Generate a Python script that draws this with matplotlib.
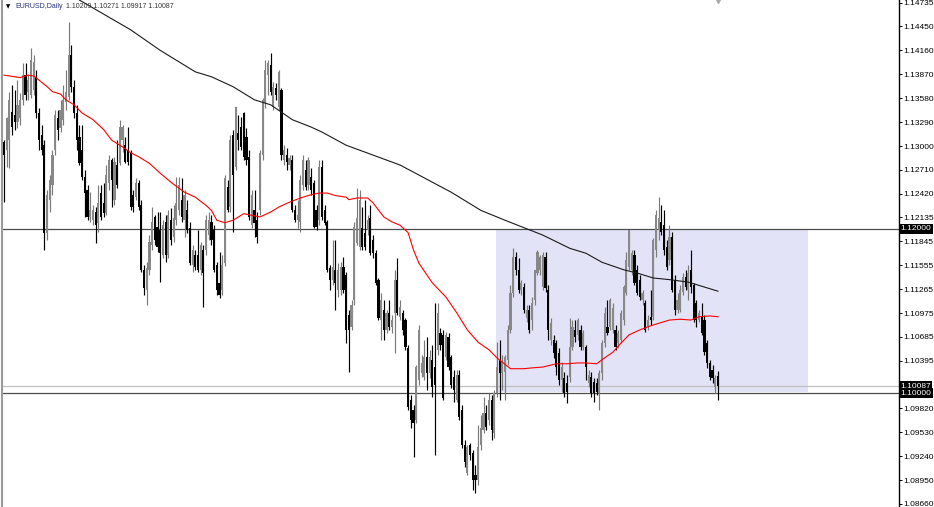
import matplotlib
matplotlib.use("Agg")
import matplotlib.pyplot as plt
from matplotlib.patches import Rectangle

plt.rcParams['font.family'] = ['Liberation Sans', 'DejaVu Sans']

# EURUSD daily candles, oldest first
opens = [
    1.1305, 1.1295, 1.1307, 1.1341, 1.1338, 1.1329, 1.1334, 1.1356, 1.1386, 1.1366,
    1.1362, 1.1368, 1.1383, 1.1340, 1.1313, 1.1301, 1.1195, 1.1235, 1.1253, 1.1295,
    1.1334, 1.1322, 1.1332, 1.1353, 1.1360, 1.1410, 1.1372, 1.1340, 1.1311, 1.1295,
    1.1262, 1.1247, 1.1214, 1.1210, 1.1220, 1.1207, 1.1243, 1.1231, 1.1219, 1.1255,
    1.1283, 1.1235, 1.1277, 1.1279, 1.1307, 1.1301, 1.1295, 1.1292, 1.1241, 1.1238,
    1.1255, 1.1228, 1.1150, 1.1125, 1.1150, 1.1180, 1.1214, 1.1202, 1.1198, 1.1168,
    1.1208, 1.1168, 1.1210, 1.1190, 1.1210, 1.1222, 1.1235, 1.1210, 1.1222, 1.1201,
    1.1156, 1.1168, 1.1168, 1.1150, 1.1174, 1.1174, 1.1192, 1.1208, 1.1198, 1.1156,
    1.1134, 1.1125, 1.1158, 1.1250, 1.1226, 1.1313, 1.1275, 1.1316, 1.1323, 1.1340,
    1.1311, 1.1287, 1.1204, 1.1222, 1.1210, 1.1222, 1.1289, 1.1352, 1.1386, 1.1398,
    1.1347, 1.1370, 1.1347, 1.1368, 1.1283, 1.1289, 1.1277, 1.1283, 1.1222, 1.1210,
    1.1208, 1.1253, 1.1271, 1.1253, 1.1262, 1.1255, 1.1222, 1.1210, 1.1275, 1.1222,
    1.1208, 1.1152, 1.1138, 1.1150, 1.1125, 1.1125, 1.1153, 1.1144, 1.1095, 1.1081,
    1.1113, 1.1182, 1.1178, 1.1201, 1.1195, 1.1198, 1.1213, 1.1186, 1.1170, 1.1138,
    1.1089, 1.1101, 1.1077, 1.1098, 1.1081, 1.1098, 1.1138, 1.1093, 1.1098, 1.1089,
    1.1055, 1.0992, 1.0980, 1.0968, 1.1016, 1.1025, 1.1020, 1.1044, 1.1025, 1.1041,
    1.1032, 1.1053, 1.1073, 1.1071, 1.1044, 1.1068, 1.1044, 1.1020, 1.0992, 1.1022,
    1.0980, 1.0938, 1.0904, 1.0938, 1.0928, 1.0901, 1.0895, 1.0938, 1.0956, 1.0976,
    1.0968, 1.0992, 1.0952, 1.1001, 1.1041, 1.1025, 1.1026, 1.1041, 1.1077, 1.1122,
    1.1165, 1.1150, 1.1125, 1.1129, 1.1091, 1.1101, 1.1089, 1.1113, 1.1146, 1.1150,
    1.1129, 1.1165, 1.1125, 1.1065, 1.1065, 1.1061, 1.1049, 1.1016, 1.1019, 1.1013,
    1.1020, 1.1056, 1.1077, 1.1071, 1.1077, 1.1056, 1.1056, 1.1013, 1.1020, 1.1014,
    1.1013, 1.1001, 1.1025, 1.1061, 1.1081, 1.1081, 1.1077, 1.1077, 1.1061, 1.1065,
    1.1089, 1.1122, 1.1153, 1.1150, 1.1168, 1.1150, 1.1138, 1.1113, 1.1110, 1.1081,
    1.1093, 1.1093, 1.1174, 1.1198, 1.1208, 1.1204, 1.1178, 1.1162, 1.1190, 1.1138,
    1.1101, 1.1101, 1.1123, 1.1141, 1.1125, 1.1150, 1.1131, 1.1110, 1.1089, 1.1093,
    1.1089, 1.1061, 1.1037, 1.1028, 1.1008, 1.10209,
]
highs = [
    1.1307, 1.1335, 1.1366, 1.1374, 1.1368, 1.1380, 1.1364, 1.1401, 1.1401, 1.1386,
    1.1419, 1.1410, 1.1392, 1.1346, 1.1326, 1.1307, 1.1247, 1.1265, 1.1295, 1.1344,
    1.1344, 1.1356, 1.1374, 1.1392, 1.1450, 1.1423, 1.1380, 1.1350, 1.1326, 1.1326,
    1.1271, 1.1253, 1.1244, 1.1228, 1.1226, 1.1253, 1.1253, 1.1255, 1.1277, 1.1289,
    1.1286, 1.1287, 1.1307, 1.1332, 1.1326, 1.1311, 1.1323, 1.1295, 1.1247, 1.1261,
    1.1259, 1.1235, 1.1156, 1.1159, 1.1192, 1.1226, 1.1216, 1.1220, 1.1220, 1.1210,
    1.1216, 1.1222, 1.1225, 1.1228, 1.1262, 1.1262, 1.1261, 1.1247, 1.1235, 1.1208,
    1.1180, 1.1174, 1.1198, 1.1184, 1.1180, 1.1216, 1.1220, 1.1216, 1.1204, 1.1159,
    1.1172, 1.1168, 1.1265, 1.1259, 1.1313, 1.1319, 1.1347, 1.1338, 1.1335, 1.1341,
    1.1322, 1.1295, 1.1247, 1.1247, 1.1220, 1.1295, 1.1358, 1.1404, 1.1404, 1.1413,
    1.1378, 1.1376, 1.1392, 1.1370, 1.1301, 1.1298, 1.1289, 1.1289, 1.1228, 1.1235,
    1.1265, 1.1289, 1.1283, 1.1287, 1.1273, 1.1259, 1.1228, 1.1283, 1.1283, 1.1228,
    1.1210, 1.1156, 1.1186, 1.1186, 1.1158, 1.1159, 1.1165, 1.1147, 1.1101, 1.1113,
    1.1208, 1.1249, 1.1247, 1.1226, 1.1235, 1.1216, 1.1228, 1.1192, 1.1174, 1.1140,
    1.1122, 1.1113, 1.1101, 1.1113, 1.1095, 1.1150, 1.1164, 1.1113, 1.1101, 1.1091,
    1.1059, 1.0998, 1.0986, 1.1035, 1.1083, 1.1047, 1.1065, 1.1068, 1.1053, 1.1059,
    1.1110, 1.1110, 1.1079, 1.1077, 1.1075, 1.1073, 1.1047, 1.1028, 1.1028, 1.1028,
    1.0986, 1.0944, 1.0938, 1.0940, 1.0931, 1.0913, 1.0962, 1.0974, 1.0996, 1.0986,
    1.1001, 1.0998, 1.1004, 1.1062, 1.1065, 1.1047, 1.1047, 1.1083, 1.1131, 1.1176,
    1.1172, 1.1164, 1.1138, 1.1134, 1.1107, 1.1107, 1.1117, 1.1150, 1.1174, 1.1168,
    1.1172, 1.1172, 1.1131, 1.1091, 1.1071, 1.1065, 1.1055, 1.1038, 1.1026, 1.1022,
    1.1091, 1.1089, 1.1089, 1.1091, 1.1083, 1.1077, 1.1059, 1.1028, 1.1026, 1.1019,
    1.1019, 1.1028, 1.1065, 1.1105, 1.1113, 1.1116, 1.1110, 1.1083, 1.1077, 1.1101,
    1.1131, 1.1172, 1.1198, 1.1174, 1.1174, 1.1156, 1.1144, 1.1125, 1.1113, 1.1095,
    1.1125, 1.1189, 1.1222, 1.1238, 1.1228, 1.1222, 1.1186, 1.1204, 1.1196, 1.1144,
    1.1122, 1.1131, 1.1146, 1.1150, 1.1156, 1.1174, 1.1134, 1.1113, 1.1101, 1.1110,
    1.1095, 1.1065, 1.1041, 1.1035, 1.1022, 1.10271,
]
lows = [
    1.1232, 1.1275, 1.1273, 1.1313, 1.1319, 1.1322, 1.1326, 1.1350, 1.1356, 1.1356,
    1.1358, 1.1362, 1.1334, 1.1295, 1.1289, 1.1174, 1.1186, 1.1220, 1.1241, 1.1289,
    1.1307, 1.1317, 1.1326, 1.1344, 1.1356, 1.1366, 1.1334, 1.1295, 1.1277, 1.1259,
    1.1214, 1.1210, 1.1208, 1.1204, 1.1182, 1.1196, 1.1210, 1.1214, 1.1216, 1.1247,
    1.1226, 1.1228, 1.1249, 1.1277, 1.1293, 1.1279, 1.1277, 1.1222, 1.1220, 1.1235,
    1.1222, 1.1147, 1.1119, 1.1107, 1.1144, 1.1174, 1.1180, 1.1172, 1.1135, 1.1164,
    1.1159, 1.1164, 1.1180, 1.1184, 1.1204, 1.1216, 1.1208, 1.1190, 1.1195, 1.1156,
    1.1147, 1.1150, 1.1147, 1.1144, 1.1105, 1.1168, 1.1186, 1.1180, 1.1147, 1.1119,
    1.1116, 1.1119, 1.1155, 1.1220, 1.1220, 1.1196, 1.1271, 1.1295, 1.1295, 1.1283,
    1.1277, 1.1210, 1.1201, 1.1190, 1.1182, 1.1216, 1.1283, 1.1346, 1.1362, 1.1362,
    1.1344, 1.1356, 1.1344, 1.1283, 1.1277, 1.1271, 1.1271, 1.1220, 1.1208, 1.1201,
    1.1196, 1.1247, 1.1247, 1.1247, 1.1241, 1.1201, 1.1198, 1.1204, 1.1210, 1.1204,
    1.1147, 1.1125, 1.1131, 1.1101, 1.1117, 1.1119, 1.1122, 1.1061, 1.1026, 1.1077,
    1.1107, 1.1180, 1.1174, 1.1174, 1.1174, 1.1192, 1.1168, 1.1164, 1.1131, 1.1089,
    1.1065, 1.1065, 1.1073, 1.1077, 1.1073, 1.1049, 1.1095, 1.1089, 1.1071, 1.1053,
    1.0980, 1.0958, 1.0923, 1.0964, 1.1010, 1.1020, 1.1016, 1.1004, 1.1019, 1.0996,
    1.0925, 1.1047, 1.1053, 1.0992, 1.1041, 1.1028, 1.1007, 1.0990, 1.0990, 1.0968,
    1.0934, 1.0911, 1.0901, 1.0919, 1.0883, 1.0879, 1.0889, 1.0931, 1.0952, 1.0956,
    1.0962, 1.0944, 1.0946, 1.0996, 1.0992, 1.1004, 1.0992, 1.1035, 1.1073, 1.1117,
    1.1144, 1.1122, 1.1119, 1.1098, 1.1087, 1.1073, 1.1077, 1.1107, 1.1144, 1.1144,
    1.1125, 1.1123, 1.1065, 1.1059, 1.1043, 1.1022, 1.1010, 1.1002, 1.0996, 1.0988,
    1.1014, 1.1053, 1.1062, 1.1065, 1.1053, 1.1053, 1.1016, 1.1008, 1.0996, 1.0990,
    1.0998, 1.0980, 1.1016, 1.1056, 1.1071, 1.1077, 1.1073, 1.1053, 1.1055, 1.1061,
    1.1083, 1.1119, 1.1150, 1.1144, 1.1131, 1.1119, 1.1113, 1.1107, 1.1075, 1.1077,
    1.1083, 1.1089, 1.1165, 1.1186, 1.1192, 1.1168, 1.1150, 1.1156, 1.1123, 1.1095,
    1.1098, 1.1099, 1.1119, 1.1125, 1.1113, 1.1122, 1.1087, 1.1081, 1.1087, 1.1071,
    1.1047, 1.1031, 1.1016, 1.1013, 1.1001, 1.09917,
]
closes = [
    1.1289, 1.1334, 1.1356, 1.1323, 1.1329, 1.1350, 1.1356, 1.1386, 1.1362, 1.1380,
    1.1404, 1.1402, 1.1340, 1.1307, 1.1295, 1.1195, 1.1241, 1.1259, 1.1289, 1.1338,
    1.1319, 1.1344, 1.1356, 1.1366, 1.1410, 1.1372, 1.1340, 1.1307, 1.1279, 1.1262,
    1.1243, 1.1214, 1.1222, 1.1222, 1.1204, 1.1231, 1.1214, 1.1219, 1.1265, 1.1283,
    1.1259, 1.1281, 1.1253, 1.1323, 1.1323, 1.1281, 1.1281, 1.1226, 1.1226, 1.1255,
    1.1226, 1.1150, 1.1128, 1.1152, 1.1184, 1.1208, 1.1186, 1.1178, 1.1170, 1.1204,
    1.1168, 1.1216, 1.1186, 1.1213, 1.1231, 1.1253, 1.1214, 1.1241, 1.1198, 1.1158,
    1.1174, 1.1153, 1.1150, 1.1180, 1.1146, 1.1210, 1.1210, 1.1186, 1.1150, 1.1125,
    1.1119, 1.1156, 1.1261, 1.1222, 1.1307, 1.1265, 1.1347, 1.1307, 1.1299, 1.1287,
    1.1283, 1.1214, 1.1241, 1.1207, 1.1190, 1.1292, 1.1356, 1.1392, 1.1401, 1.1366,
    1.1372, 1.1362, 1.1390, 1.1289, 1.1295, 1.1281, 1.1286, 1.1222, 1.1210, 1.1216,
    1.1259, 1.1283, 1.1250, 1.1283, 1.1247, 1.1202, 1.1202, 1.1275, 1.1214, 1.1207,
    1.1150, 1.1138, 1.1153, 1.1134, 1.1150, 1.1153, 1.1125, 1.1077, 1.1077, 1.1107,
    1.1202, 1.1213, 1.1235, 1.1178, 1.1178, 1.1210, 1.1170, 1.1170, 1.1134, 1.1091,
    1.1113, 1.1077, 1.1098, 1.1081, 1.1089, 1.1138, 1.1098, 1.1105, 1.1077, 1.1056,
    1.0984, 1.0968, 1.0964, 1.1032, 1.1077, 1.1037, 1.1044, 1.1025, 1.1044, 1.1008,
    1.1010, 1.1098, 1.1059, 1.0994, 1.1071, 1.1032, 1.1010, 1.1004, 1.1022, 1.0971,
    1.0938, 1.0917, 1.0935, 1.0925, 1.0895, 1.0895, 1.0935, 1.0958, 1.0976, 1.0959,
    1.0992, 1.0956, 1.1001, 1.1032, 1.1025, 1.1038, 1.1044, 1.1077, 1.1122, 1.1165,
    1.1150, 1.1125, 1.1134, 1.1101, 1.1101, 1.1077, 1.1110, 1.1150, 1.1172, 1.1165,
    1.1168, 1.1128, 1.1077, 1.1085, 1.1049, 1.1032, 1.1016, 1.1032, 1.1001, 1.1002,
    1.1056, 1.1081, 1.1068, 1.1089, 1.1056, 1.1073, 1.1032, 1.1022, 1.1001, 1.1001,
    1.1002, 1.1025, 1.1061, 1.1098, 1.1073, 1.1113, 1.1104, 1.1056, 1.1073, 1.1098,
    1.1129, 1.1162, 1.1198, 1.1170, 1.1134, 1.1122, 1.1117, 1.1122, 1.1077, 1.1089,
    1.1089, 1.1186, 1.1216, 1.1213, 1.1196, 1.1174, 1.1153, 1.1190, 1.1125, 1.1101,
    1.1113, 1.1125, 1.1141, 1.1129, 1.1146, 1.1129, 1.1089, 1.1089, 1.1098, 1.1073,
    1.1050, 1.1037, 1.1020, 1.1019, 1.1019, 1.10087,
]

# moving averages as drawn on the chart: (bar index, price)
ma_red_idx = [0, 6, 9, 11, 13, 16, 18, 21, 23, 26, 29, 33, 37, 40, 44, 47, 50, 54, 58, 62,
              67, 71, 75, 77, 79, 82, 85, 87, 89, 92, 95, 99, 102, 106, 110, 114, 117, 120,
              123, 127, 128, 131, 135, 137, 141, 144, 147, 150, 152, 154, 159, 164, 168, 172,
              176, 180, 183, 188, 193, 196, 200, 205, 209, 213, 216, 220, 222, 226, 229, 232,
              236, 240, 243, 247, 251, 255, 258, 262, 265]
ma_red = [1.1386, 1.1383, 1.1386, 1.1385, 1.1380, 1.1372, 1.1366, 1.1363, 1.1356, 1.1350,
          1.1340, 1.1332, 1.1320, 1.1307, 1.1299, 1.1292, 1.1287, 1.1279, 1.1267, 1.1256,
          1.1244, 1.1238, 1.1228, 1.1222, 1.1210, 1.1207, 1.1210, 1.1214, 1.1218, 1.1216,
          1.1214, 1.1220, 1.1226, 1.1232, 1.1237, 1.1241, 1.1243, 1.1243, 1.1240, 1.1238,
          1.1235, 1.1237, 1.1237, 1.1231, 1.1214, 1.1208, 1.1204, 1.1195, 1.1174, 1.1158,
          1.1134, 1.1117, 1.1098, 1.1077, 1.1062, 1.1053, 1.1043, 1.1030, 1.1030, 1.1031,
          1.1032, 1.1036, 1.1036, 1.1037, 1.1037, 1.1036, 1.1041, 1.1050, 1.1061, 1.1071,
          1.1077, 1.1082, 1.1085, 1.1089, 1.1090, 1.1089, 1.1093, 1.1094, 1.1093]
ma_black_idx = [28, 47, 58, 71, 77, 85, 93, 99, 103, 107, 114, 118, 127, 147, 166, 177,
                186, 193, 200, 210, 216, 222, 230, 235, 241, 247, 254, 257, 265]
ma_black = [1.1477, 1.1441, 1.1416, 1.1390, 1.1384, 1.1372, 1.1356, 1.1350, 1.1341, 1.1332,
            1.1323, 1.1317, 1.1301, 1.1277, 1.1244, 1.1222, 1.1210, 1.1201, 1.1192, 1.1176,
            1.1170, 1.1159, 1.1150, 1.1146, 1.1140, 1.1138, 1.1135, 1.1132, 1.1124]

price_ticks = [1.14735, 1.14450, 1.14160, 1.13870, 1.13580, 1.13290, 1.13000, 1.12710,
               1.12420, 1.12135, 1.11845, 1.11555, 1.11265, 1.10975, 1.10685, 1.10395,
               1.09820, 1.09530, 1.09240, 1.08950, 1.08660]
levels = [1.12000, 1.10000]
bid = 1.10087
zone_bars = (182.6, 298.4)
zone_prices = (1.1002, 1.1199)
header = "1.10209 1.10271 1.09917 1.10087"

W, H = 934, 507
fig = plt.figure(figsize=(W / 100, H / 100), dpi=100)
ax = fig.add_axes([2 / W, 0, 897 / W, 1])
ax.set_xlim(-0.74, 332.2)
ax.set_ylim(1.08623, 1.14771)

# drawn zone
ax.add_patch(Rectangle((zone_bars[0], zone_prices[0]), zone_bars[1] - zone_bars[0],
                       zone_prices[1] - zone_prices[0], facecolor='#e3e3f8',
                       edgecolor='none', zorder=0))

for lv in levels:
    ax.axhline(lv, color='#4d4d4d', lw=0.9, zorder=1)
ax.axhline(bid, color='#c0c0c0', lw=0.9, zorder=1)

# candles
idx = list(range(len(closes)))
up = [c >= o for o, c in zip(opens, closes)]
wick_col = ['#7a7a7a' if u else '#000000' for u in up]
body_col = ['#888888' if u else '#000000' for u in up]
ax.vlines(idx, lows, highs, colors=wick_col, linewidth=0.85, zorder=3)
bottoms = [min(o, c) for o, c in zip(opens, closes)]
heights = [max(abs(c - o), 0.00005) for o, c in zip(opens, closes)]
ax.bar(idx, heights, bottom=bottoms, width=0.8, color=body_col, linewidth=0, zorder=4)

ax.plot(ma_red_idx, ma_red, color='#ff0000', lw=0.8, zorder=5)
ax.plot(ma_black_idx, ma_black, color='#1a1a1a', lw=0.8, zorder=5)

# chart shift marker
ax.plot([idx[-1]], [1.14771], marker='v', ms=5, color='#a8a8a8', clip_on=False, zorder=6)

# axes styling
for s in ['top', 'bottom']:
    ax.spines[s].set_visible(False)
ax.spines['left'].set_color('#9a9a9a')
ax.spines['left'].set_linewidth(1.5)
ax.spines['right'].set_color('black')
ax.spines['right'].set_linewidth(1.0)
ax.set_xticks([])
ax.yaxis.tick_right()
ax.set_yticks(price_ticks)
ax.set_yticklabels(['%.5f' % t for t in price_ticks])
ax.tick_params(axis='y', length=2.2, width=0.7, pad=1.0, labelsize=6, colors='black')

# price boxes on the scale
for val in [levels[0], bid, levels[1]]:
    ax.text(1.0015, val, '%.5f' % val, transform=ax.get_yaxis_transform(),
            ha='left', va='center', fontsize=6, color='white', zorder=10,
            bbox=dict(boxstyle='square,pad=0.18', fc='black', ec='none'))

# header
ytop = 1 - 7 / H
fig.text(6 / W, ytop, '\u25bc', fontsize=4, color='black', va='center',
         family=['DejaVu Sans'])
fig.text(15 / W, ytop, 'EURUSD,Daily', fontsize=5, color='#23317a', va='center')
fig.text(66 / W, ytop, header, fontsize=5, color='#333333', va='center')

fig.savefig('out.png', dpi=100)
